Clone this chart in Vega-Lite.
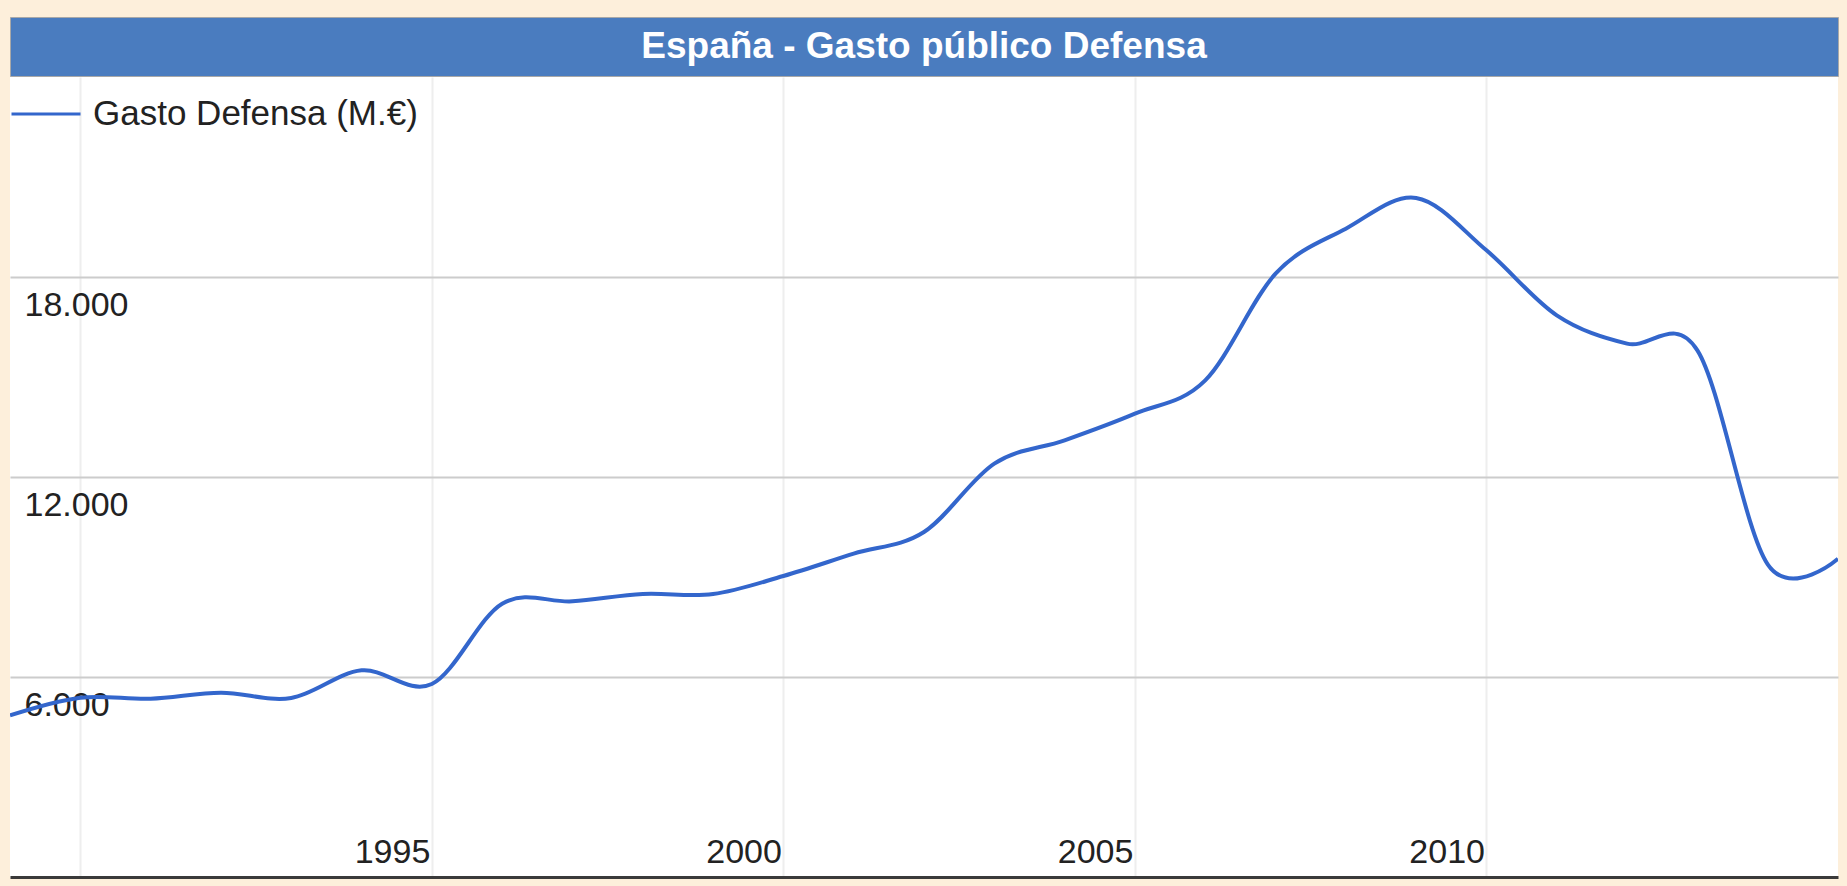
{
  "$schema": "https://vega.github.io/schema/vega-lite/v6.json",
  "background": "#FDEFDB",
  "padding": {"left": 9, "top": 16, "right": 10, "bottom": 11},
  "spacing": 0,
  "config": {
    "font": "Liberation Sans",
    "view": {"stroke": null},
    "concat": {"spacing": 0}
  },
  "vconcat": [
    {
      "width": 1828,
      "height": 59,
      "view": {"fill": "#4A7CBF", "stroke": "#A8A8A8", "strokeWidth": 1},
      "data": {"values": [{"titulo": "España - Gasto público Defensa"}]},
      "mark": {"type": "text", "font": "Liberation Sans", "fontWeight": "bold", "fontSize": 37, "color": "#FFFFFF", "baseline": "alphabetic", "dy": 11.5, "align": "center"},
      "encoding": {"text": {"field": "titulo", "type": "nominal"}}
    },
    {
      "width": 1828,
      "height": 800,
      "view": {"fill": "#FFFFFF", "stroke": null},
      "data": {
        "values": [
          {"anio": 1989, "gasto": 4850},
          {"anio": 1990, "gasto": 5380},
          {"anio": 1991, "gasto": 5350},
          {"anio": 1992, "gasto": 5530},
          {"anio": 1993, "gasto": 5370},
          {"anio": 1994, "gasto": 6200},
          {"anio": 1995, "gasto": 5790},
          {"anio": 1996, "gasto": 8200},
          {"anio": 1997, "gasto": 8270},
          {"anio": 1998, "gasto": 8490},
          {"anio": 1999, "gasto": 8490},
          {"anio": 2000, "gasto": 9030},
          {"anio": 2001, "gasto": 9700},
          {"anio": 2002, "gasto": 10350},
          {"anio": 2003, "gasto": 12400},
          {"anio": 2004, "gasto": 13100},
          {"anio": 2005, "gasto": 13900},
          {"anio": 2006, "gasto": 14900},
          {"anio": 2007, "gasto": 18100},
          {"anio": 2008, "gasto": 19450},
          {"anio": 2009, "gasto": 20370},
          {"anio": 2010, "gasto": 18800},
          {"anio": 2011, "gasto": 16850},
          {"anio": 2012, "gasto": 16000},
          {"anio": 2013, "gasto": 15800},
          {"anio": 2014, "gasto": 9380},
          {"anio": 2015, "gasto": 9550}
        ]
      },
      "mark": {"type": "line", "interpolate": "cardinal", "strokeWidth": 4, "clip": true},
      "encoding": {
        "x": {
          "field": "anio",
          "type": "quantitative",
          "scale": {"domain": [1989, 2015], "nice": false, "zero": false},
          "axis": {
            "orient": "bottom",
            "values": [1990, 1995, 2000, 2005, 2010],
            "labelExpr": "datum.value == 1990 ? '' : format(datum.value, 'd')",
            "title": null,
            "ticks": false,
            "tickSize": 0,
            "domain": true,
            "domainColor": "#3A3A3A",
            "domainWidth": 3,
            "grid": true,
            "gridColor": "#EEEEEE",
            "gridWidth": 2,
            "labelAlign": "right",
            "labelBaseline": "alphabetic",
            "labelPadding": -15,
            "labelOffset": -2,
            "labelFontSize": 34,
            "labelColor": "#222222",
            "labelFont": "Liberation Sans",
            "labelFlush": false,
            "labelOverlap": false
          }
        },
        "y": {
          "field": "gasto",
          "type": "quantitative",
          "scale": {"domain": [0, 24000], "nice": false},
          "axis": {
            "orient": "left",
            "values": [6000, 12000, 18000],
            "labelExpr": "replace(format(datum.value, ','), ',', '.')",
            "title": null,
            "domain": false,
            "ticks": false,
            "tickSize": 0,
            "grid": true,
            "gridColor": "#CCCCCC",
            "gridWidth": 2,
            "labelAlign": "left",
            "labelBaseline": "alphabetic",
            "labelPadding": -14,
            "labelOffset": 38,
            "labelFontSize": 34,
            "labelColor": "#222222",
            "labelFont": "Liberation Sans",
            "labelFlush": false,
            "labelOverlap": false
          }
        },
        "color": {
          "datum": "Gasto Defensa (M.€)",
          "type": "nominal",
          "scale": {"range": ["#3366CC"]},
          "legend": {
            "orient": "none",
            "legendX": 0,
            "legendY": 61,
            "title": null,
            "symbolType": "stroke",
            "symbolSize": 4761,
            "symbolStrokeWidth": 3,
            "labelFontSize": 35,
            "labelFont": "Liberation Sans",
            "labelColor": "#222222",
            "labelOffset": 11,
            "labelLimit": 0,
            "padding": 0
          }
        }
      }
    }
  ]
}
